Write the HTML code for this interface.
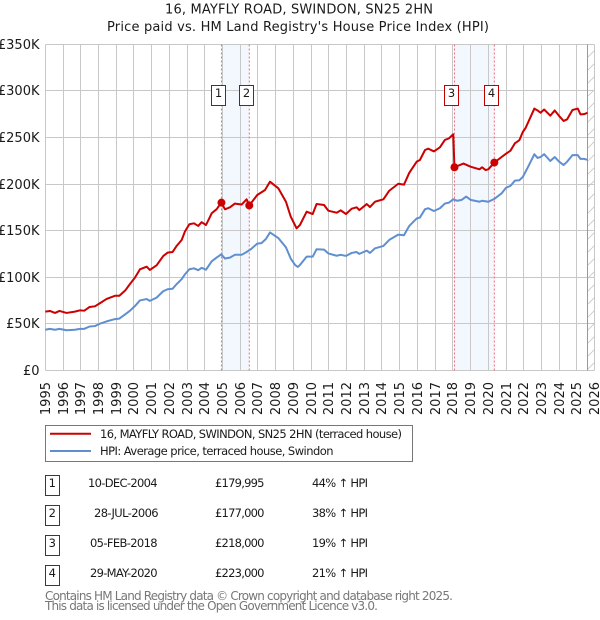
<!DOCTYPE html>
<html>
<head>
<meta charset="utf-8">
<title>16, MAYFLY ROAD, SWINDON, SN25 2HN</title>
<style>
html,body{margin:0;padding:0;background:#fff;}
svg{display:block;position:absolute;left:0;top:0;}
text{font-family:"DejaVu Sans","Liberation Sans",sans-serif;fill:#1a1a1a;}
</style>
</head>
<body>
<svg id="chart" xmlns="http://www.w3.org/2000/svg" width="600" height="620" viewBox="0 0 600 620">
  <text x="299" y="13.5" font-size="13" text-anchor="middle" textLength="268" lengthAdjust="spacing">16, MAYFLY ROAD, SWINDON, SN25 2HN</text>
  <text x="298" y="31" font-size="13" text-anchor="middle" textLength="382" lengthAdjust="spacing">Price paid vs. HM Land Registry's House Price Index (HPI)</text>
  <g id="plot"></g>

  <g>
    <rect x="45.5" y="425.5" width="367" height="36" fill="#fff" stroke="#777" stroke-width="1"/>
    <line x1="50" x2="91" y1="433.7" y2="433.7" stroke="#cc0000" stroke-width="2"/>
    <text x="100" y="438" font-size="11.5" textLength="302" lengthAdjust="spacing">16, MAYFLY ROAD, SWINDON, SN25 2HN (terraced house)</text>
    <line x1="50" x2="91" y1="451" y2="451" stroke="#5f8fd0" stroke-width="2"/>
    <text x="100" y="455" font-size="11.5" textLength="233.5" lengthAdjust="spacing">HPI: Average price, terraced house, Swindon</text>
  </g>

  <g font-size="11.5">
    <g>
      <rect x="45.5" y="475.5" width="14" height="20" fill="#fff" stroke="#c00000" stroke-width="1"/>
      <text x="52.3" y="487" text-anchor="middle">1</text>
      <text x="88" y="487" textLength="69.6">10-DEC-2004</text>
      <text x="215" y="487" textLength="49.5">£179,995</text>
      <text x="312" y="487" textLength="56">44% ↑ HPI</text>
    </g>
    <g>
      <rect x="45.5" y="505.5" width="14" height="20" fill="#fff" stroke="#c00000" stroke-width="1"/>
      <text x="52.3" y="517" text-anchor="middle">2</text>
      <text x="94" y="517" textLength="64.6">28-JUL-2006</text>
      <text x="215" y="517" textLength="49.5">£177,000</text>
      <text x="312" y="517" textLength="56">38% ↑ HPI</text>
    </g>
    <g>
      <rect x="45.5" y="535.5" width="14" height="20" fill="#fff" stroke="#c00000" stroke-width="1"/>
      <text x="52.3" y="547" text-anchor="middle">3</text>
      <text x="90" y="547" textLength="67.6">05-FEB-2018</text>
      <text x="215" y="547" textLength="49.5">£218,000</text>
      <text x="312" y="547" textLength="56">19% ↑ HPI</text>
    </g>
    <g>
      <rect x="45.5" y="565.5" width="14" height="20" fill="#fff" stroke="#c00000" stroke-width="1"/>
      <text x="52.3" y="577" text-anchor="middle">4</text>
      <text x="90" y="577" textLength="67.6">29-MAY-2020</text>
      <text x="215" y="577" textLength="49.5">£223,000</text>
      <text x="312" y="577" textLength="56">21% ↑ HPI</text>
    </g>
  </g>

  <text x="45" y="600" font-size="12" style="fill:#777" textLength="408" lengthAdjust="spacing">Contains HM Land Registry data © Crown copyright and database right 2025.</text>
  <text x="45" y="610" font-size="12" style="fill:#777" textLength="333" lengthAdjust="spacing">This data is licensed under the Open Government Licence v3.0.</text>
</svg>

<script>
const yearTicks = [1995,1996,1997,1998,1999,2000,2001,2002,2003,2004,2005,2006,2007,2008,2009,2010,2011,2012,2013,2014,2015,2016,2017,2018,2019,2020,2021,2022,2023,2024,2025,2026];
const valueTicks = [0,50,100,150,200,250,300,350];
const valueTickLabels = ["£0","£50K","£100K","£150K","£200K","£250K","£300K","£350K"];

const priceYears = [1995,1995.26,1995.55,1995.8,1996.2,1996.67,1996.96,1997.2,1997.5,1997.8,1998.08,1998.46,1998.93,1999.18,1999.5,1999.78,2000.06,2000.34,2000.72,2000.9,2001.28,2001.66,2001.9,2002.18,2002.41,2002.7,2002.88,2003.13,2003.39,2003.63,2003.82,2004.07,2004.39,2004.67,2004.93,2005.14,2005.42,2005.7,2006.08,2006.36,2006.51,2006.96,2007.4,2007.68,2008.15,2008.58,2008.85,2009.18,2009.37,2009.75,2010.09,2010.31,2010.73,2010.97,2011.44,2011.67,2011.97,2012.29,2012.57,2012.72,2013.14,2013.32,2013.61,2014.08,2014.41,2014.92,2015.24,2015.54,2015.96,2016.14,2016.43,2016.61,2016.93,2017.27,2017.55,2017.78,2018.02,2018.09,2018.6,2019,2019.5,2019.65,2019.85,2020,2020.34,2020.75,2021,2021.25,2021.5,2021.75,2021.95,2022.1,2022.6,2022.78,2022.95,2023.15,2023.5,2023.75,2024,2024.25,2024.45,2024.75,2025.05,2025.2,2025.4,2025.6];
const priceValues = [63,63.7,61.6,63.7,61.6,63,64.4,64,68,68.7,72,76.6,80,80,85.5,92.7,99.5,108.4,111.3,107.7,112.7,122.8,126.3,127,133.5,140,149,156.8,157.8,155,159,156,168.6,173,180,172.9,175,179,178,183.6,177,188.2,193.6,202.5,195.4,181,165,152.4,156,170.3,167.8,178.5,177.5,171.4,169.2,171.7,167.8,173.5,175,172,178.5,175.3,181,183.6,192.8,200.3,199.3,212,224,225.8,236.5,238,235,239.4,247.3,249,253.4,218,222,218.6,215.8,218,215,215.8,223,229,232.6,235.8,243.7,247,256,260,281,279,276.5,280,273.4,279,273,267.7,269.5,279.5,281,274.8,275,276.5];

const hpiYears = [1995,1995.25,1995.55,1995.8,1996.2,1996.67,1996.96,1997.2,1997.5,1997.8,1998.08,1998.46,1998.93,1999.18,1999.5,1999.78,2000.06,2000.34,2000.72,2000.9,2001.28,2001.66,2001.9,2002.18,2002.41,2002.7,2002.88,2003.13,2003.39,2003.63,2003.82,2004.07,2004.39,2004.67,2004.93,2005.14,2005.42,2005.7,2006.08,2006.36,2006.6,2006.96,2007.2,2007.45,2007.68,2008.15,2008.58,2008.85,2009.1,2009.25,2009.37,2009.75,2010.09,2010.31,2010.73,2010.97,2011.44,2011.67,2011.97,2012.29,2012.57,2012.72,2013.14,2013.32,2013.61,2014.08,2014.41,2014.92,2015.24,2015.54,2015.96,2016.14,2016.43,2016.61,2016.93,2017.27,2017.55,2017.78,2018.02,2018.25,2018.5,2018.75,2019,2019.5,2019.65,2020,2020.34,2020.75,2021,2021.25,2021.5,2021.75,2021.95,2022.25,2022.6,2022.78,2022.95,2023.15,2023.5,2023.75,2024,2024.25,2024.45,2024.75,2025.05,2025.2,2025.4,2025.6];
const hpiValues = [43.5,44.5,43.5,44.5,43,43.5,44.5,44.5,47,47.5,50,52.5,55,55.5,60,64,69,75,76.5,74.5,78,85,87,87.5,92.5,98,103,108.5,109.5,107.5,110,108,117,121,124.5,120,121,124,124,127,130,136,136.5,141,148,142,132,120,113,111,113,122,122,130,129.5,125.5,123,124,122.8,126,127,125,128.5,126,131,133.5,140,145.7,145,155,163,164,173,174,171,174,179,180,183.6,182,183,186.5,183,181,182,181,184,190,196,198,203.6,204,207.7,218.6,232,228,229,232,224.7,229,224,220.4,224,231,231,227,227,226];

const saleYears = [2004.94,2006.51,2018.09,2020.34];
const saleValues = [180,177,218,223];
const saleLabels = ["1","2","3","4"];
const forecastStartYear = 2025.57;

const SVGNS = "http://www.w3.org/2000/svg";
const plot = document.getElementById("plot");
const X0 = 45.3, XPERYEAR = 17.72, Y0 = 370.3, YPERK = 0.9314;
function xScale(year){ return X0 + (year - 1995) * XPERYEAR; }
function yScale(value){ return Y0 - value * YPERK; }
function snap(p){ return Math.floor(p) + 0.5; }
function make(tag, attrs, parent){
  const el = document.createElementNS(SVGNS, tag);
  for (const k in attrs) el.setAttribute(k, attrs[k]);
  (parent || plot).appendChild(el);
  return el;
}
const LEFT = snap(xScale(yearTicks[0])), RIGHT = snap(xScale(yearTicks[yearTicks.length-1]));
const TOP = snap(yScale(valueTicks[valueTicks.length-1])), BOTTOM = snap(yScale(valueTicks[0]));

// shaded holding periods
for (let i = 0; i + 1 < saleYears.length; i += 2) {
  const band = make("rect", {x: xScale(saleYears[i]), y: TOP, width: xScale(saleYears[i+1]) - xScale(saleYears[i]), height: BOTTOM - TOP, fill: "#f3f7fe"});
  
  
}

// gridlines
yearTicks.forEach(function(t){
  const x = snap(xScale(t));
  const g = make("line", {x1: x, x2: x, y1: TOP, y2: BOTTOM, stroke: "#c8c8c8", "stroke-width": 1});
  
  
  const lab = make("text", {transform: "translate(" + (x + 4.5) + ",382) rotate(-90)", "font-size": 13, "text-anchor": "end"});
  lab.textContent = String(t);
  
  
});
valueTicks.forEach(function(v, i){
  const y = snap(yScale(v));
  const g = make("line", {x1: LEFT, x2: RIGHT, y1: y, y2: y, stroke: "#c8c8c8", "stroke-width": 1});
  
  
  const lab = make("text", {x: 39.5, y: y + 4.5, "font-size": 13, "text-anchor": "end"});
  lab.textContent = valueTickLabels[i];
  
  
});

// forecast hatch
const fx = snap(xScale(forecastStartYear));
const defs = make("clipPath", {id: "hatchClip"});
make("rect", {x: fx, y: TOP, width: RIGHT - fx, height: BOTTOM - TOP}, defs);
const hatch = make("g", {"clip-path": "url(#hatchClip)", stroke: "#c8c8c8", "stroke-width": 0.8});


for (let y = TOP; y < BOTTOM + 14; y += 13) {
  make("line", {x1: fx, y1: y, x2: fx + 14, y2: y - 14}, hatch);
}
const cut = make("line", {x1: fx, x2: fx, y1: TOP, y2: BOTTOM, stroke: "#999", "stroke-width": 1});



// sale marker lines
saleYears.forEach(function(yr){
  const x = xScale(yr);
  const l = make("line", {x1: x, x2: x, y1: TOP, y2: BOTTOM, stroke: "#f06a7a", "stroke-width": 1, "stroke-dasharray": "2 2"});
  
  
});

function pathFrom(xs, ys){
  return xs.map(function(x, i){ return (i ? "L" : "M") + xScale(x).toFixed(2) + " " + yScale(ys[i]).toFixed(2); }).join(" ");
}
const hpiLine = make("path", {d: pathFrom(hpiYears, hpiValues), fill: "none", stroke: "#5f8fd0", "stroke-width": 2, "stroke-linejoin": "round"});


const priceLine = make("path", {d: pathFrom(priceYears, priceValues), fill: "none", stroke: "#cc0000", "stroke-width": 2, "stroke-linejoin": "round"});



saleYears.forEach(function(yr, i){
  const c = make("circle", {cx: xScale(yr), cy: yScale(saleValues[i]), r: 4, fill: "#cc0000"});
  
  
  const bx = Math.floor(xScale(yr)) - 10 + 0.5;
  const b = make("rect", {x: bx, y: 85.5, width: 14, height: 20, fill: "#fff", stroke: "#c00000", "stroke-width": 1});
  
  
  const t = make("text", {x: bx + 7, y: 97, "font-size": 11.5, "text-anchor": "middle"});
  t.textContent = saleLabels[i];
  
  
});
</script>
</body>
</html>
